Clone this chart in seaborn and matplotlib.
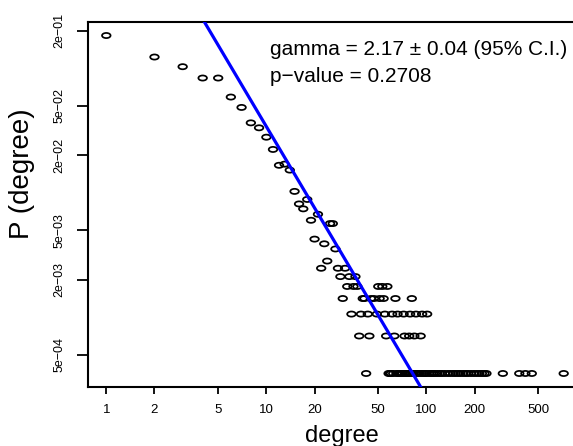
import numpy as np
import pandas as pd
import matplotlib
matplotlib.use("Agg")
import matplotlib.pyplot as plt
import seaborn as sns
from matplotlib.path import Path
from matplotlib.transforms import Affine2D
from matplotlib.ticker import NullLocator

# -------------------------
# Data (degree -> number of nodes)
# -------------------------
degree = [
    1, 2, 3, 4, 5, 6, 7, 8, 9, 10, 11, 12, 13, 14, 15, 16, 17, 18, 19, 20,
    21, 22, 23, 24, 25, 26, 27, 28, 29, 30, 31, 32, 33, 34, 35, 36, 37, 38, 39, 40,
    41, 42, 43, 44, 45, 47, 49, 50, 51, 53, 54, 55, 56, 57,
    58, 59, 60, 61, 62, 63, 64, 65, 66, 67, 68, 69, 70, 71, 72, 73, 74, 75, 76, 77,
    78, 79, 80, 81, 82, 83, 84, 85, 86, 87, 88, 90, 92, 93, 94, 96, 98, 100, 101,
    104, 107, 110, 113, 117, 121, 125, 130, 136, 141, 147, 152, 158, 163, 170,
    176, 182, 190, 198, 206, 214, 222, 230, 237,
    300, 380, 415, 455, 720,
]
count = [
    518, 348, 291, 236, 236, 166, 137, 103, 94, 79, 63, 47, 48, 43, 29, 23, 21, 25, 17, 12,
    19, 7, 11, 8, 16, 16, 10, 7, 6, 4, 7, 5, 6, 3, 5, 6, 5, 2, 3, 4,
    4, 1, 3, 2, 4, 4, 3, 5, 4, 5, 4, 3, 2, 5,
    1, 1, 1, 3, 1, 2, 4, 1, 3, 1, 1, 1, 1, 1, 3, 2, 1, 1, 1, 1,
    2, 3, 1, 4, 1, 1, 2, 1, 3, 1, 1, 1, 2, 1, 3, 1, 1, 1, 3,
    1, 1, 1, 1, 1, 1, 1, 1, 1, 1, 1, 1, 1, 1, 1,
    1, 1, 1, 1, 1, 1, 1, 1, 1,
    1, 1, 1, 1, 1,
]

# power-law fit shown as the blue line
gamma = 2.17
line_const = 5.03

x_ticks = [1, 2, 5, 10, 20, 50, 100, 200, 500]
x_tick_labels = ["1", "2", "5", "10", "20", "50", "100", "200", "500"]
y_ticks = [2e-01, 5e-02, 2e-02, 5e-03, 2e-03, 5e-04]
y_tick_labels = ["2e\u221201", "5e\u221202", "2e\u221202", "5e\u221203", "2e\u221203", "5e\u221204"]

annot_gamma = "gamma = 2.17 \u00b1 0.04 (95% C.I.)"
annot_p = "p\u2212value = 0.2708"


def r_log_limits(vals):
    """R-style axis range: 4% padding on each side in log space."""
    lo, hi = np.log10(np.min(vals)), np.log10(np.max(vals))
    pad = 0.04 * (hi - lo)
    return 10 ** (lo - pad), 10 ** (hi + pad)


def main():
    df = pd.DataFrame({"degree": degree, "count": count})
    df["prob"] = df["count"] / df["count"].sum()

    sns.set_style("ticks")
    plt.rcParams["font.family"] = ["Liberation Sans", "DejaVu Sans"]
    plt.rcParams.update({
        "text.color": "black",
        "axes.labelcolor": "black",
        "xtick.color": "black",
        "ytick.color": "black",
    })

    W, H = 573, 446
    fig = plt.figure(figsize=(W / 100, H / 100), dpi=100)
    # axes box in pixels: left 88, right 582 (clipped by the image), top 22, bottom 387
    ax = fig.add_axes([88 / W, (H - 387) / H, 494 / W, 365 / H])
    ax.set_xscale("log")
    ax.set_yscale("log")

    # open ellipses like the stretched R pch=1 circles
    ellipse = Path.unit_circle().transformed(Affine2D().scale(1.0, 0.6))
    sns.scatterplot(data=df, x="degree", y="prob", marker=ellipse, s=38,
                    facecolor="none", edgecolor="black", linewidth=1.25,
                    ax=ax, legend=False, zorder=2)

    fit = pd.DataFrame({"degree": [0.5, 2000.0]})
    fit["prob"] = line_const * fit["degree"] ** (-gamma)
    sns.lineplot(data=fit, x="degree", y="prob", color="#0000ff",
                 linewidth=2.3, ax=ax, zorder=3)

    ax.set_xlim(*r_log_limits(df["degree"]))
    ax.set_ylim(*r_log_limits(df["prob"]))

    ax.set_xticks(x_ticks, x_tick_labels)
    ax.set_yticks(y_ticks, y_tick_labels)
    ax.xaxis.set_minor_locator(NullLocator())
    ax.yaxis.set_minor_locator(NullLocator())
    ax.tick_params(axis="x", bottom=True, length=5, width=1.3, pad=7,
                   labelsize=9.5, direction="out", color="black")
    ax.tick_params(axis="y", left=True, length=8, width=1.3, pad=8,
                   labelsize=9, labelrotation=90, direction="out", color="black")
    for lab in ax.get_yticklabels():
        lab.set_va("center")

    for sp in ax.spines.values():
        sp.set_visible(True)
        sp.set_color("black")
        sp.set_linewidth(1.5)

    ax.set_xlabel("degree", fontsize=17)
    ax.xaxis.set_label_coords(0.514, -0.105)
    ax.set_ylabel("P (degree)", fontsize=20)
    ax.yaxis.set_label_coords(-0.108, 0.585)

    ax.text(0.3684, 0.9233, annot_gamma, transform=ax.transAxes,
            fontsize=15, ha="left", va="center")
    ax.text(0.3684, 0.8507, annot_p, transform=ax.transAxes,
            fontsize=15, ha="left", va="center")

    fig.savefig("out.png", dpi=100)
    plt.close(fig)


if __name__ == "__main__":
    main()
